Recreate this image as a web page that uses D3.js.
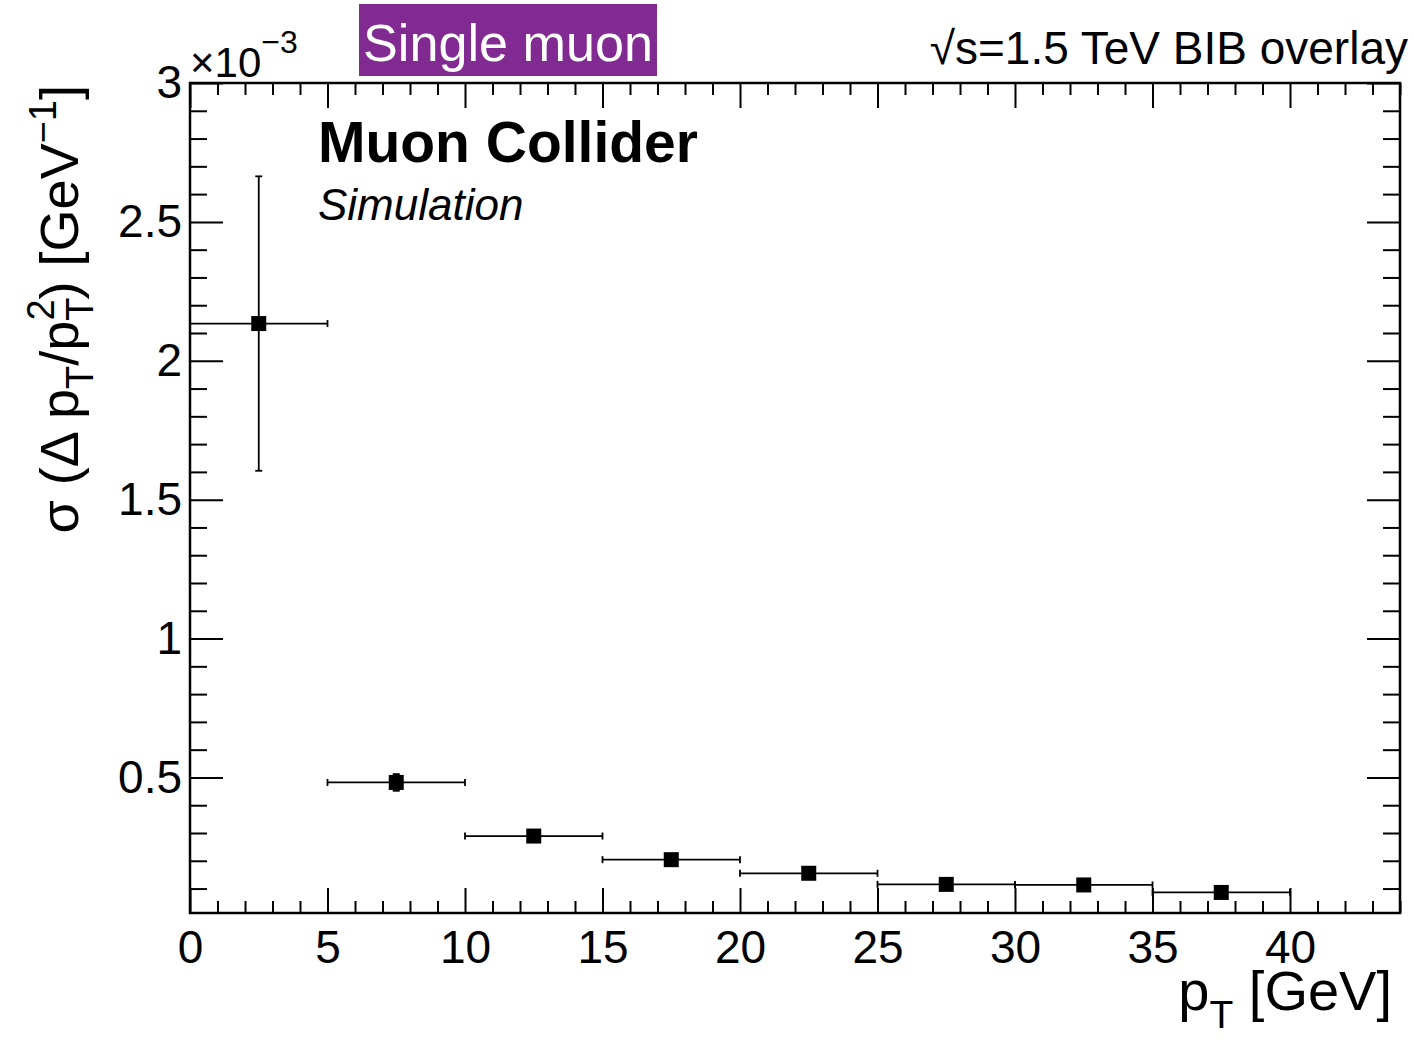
<!DOCTYPE html>
<html>
<head>
<meta charset="utf-8">
<script src="https://cdn.jsdelivr.net/npm/d3@7"></script>
<style>
  body { margin: 0; background: #fff; }
  svg { display: block; }
  text { font-family: "Liberation Sans", Arial, Helvetica, sans-serif; fill: #000; }
</style>
</head>
<body>
<svg id="chart" width="1414" height="1040"></svg>
<script>
// ---- data (sigma in units of 1e-3 GeV^-1) ----
const ptCenters   = [2.5, 7.5, 12.5, 17.5, 22.5, 27.5, 32.5, 37.5];
const ptHalfWidth = [2.5, 2.5, 2.5, 2.5, 2.5, 2.5, 2.5, 2.5];
const sigmaVals   = [2.134, 0.482, 0.289, 0.204, 0.155, 0.115, 0.113, 0.086];
const sigmaErrs   = [0.53, 0.03, 0.012, 0.008, 0.006, 0.005, 0.005, 0.004];

const xMajorTicks = [0, 5, 10, 15, 20, 25, 30, 35, 40];
const xMinorTicks = d3.range(0, 45, 1);
const yMajorTicks = [0.5, 1, 1.5, 2, 2.5, 3];
const yTickLabels = ["0.5", "1", "1.5", "2", "2.5", "3"];
const yMinorTicks = d3.range(1, 31).map(d => d / 10);

const xDomain = [0, 44];
const yDomain = [0.012, 3];

// ---- layout ----
const L = 190, R = 1400, T = 83, B = 913;
const svg = d3.select("#chart");
const x = d3.scaleLinear(xDomain, [L, R]);
const y = d3.scaleLinear(yDomain, [B, T]);

function clean(g) { g.select(".domain").remove(); g.selectAll("line").attr("stroke", "#000").attr("stroke-width", 2); }

// bottom
svg.append("g").attr("transform", `translate(0,${B})`)
  .call(d3.axisBottom(x).tickValues(xMinorTicks.filter(d => d % 5 !== 0)).tickSize(-12).tickFormat(""))
  .call(clean);
svg.append("g").attr("transform", `translate(0,${B})`)
  .call(d3.axisBottom(x).tickValues(xMajorTicks).tickSizeInner(-25).tickSizeOuter(0).tickPadding(17).tickFormat(d3.format("d")))
  .call(clean)
  .selectAll("text").attr("font-size", 46).attr("font-family", "Liberation Sans, Arial, sans-serif");
// top
svg.append("g").attr("transform", `translate(0,${T})`)
  .call(d3.axisTop(x).tickValues(xMinorTicks.filter(d => d % 5 !== 0)).tickSize(-12).tickFormat(""))
  .call(clean);
svg.append("g").attr("transform", `translate(0,${T})`)
  .call(d3.axisTop(x).tickValues(xMajorTicks).tickSize(-25).tickFormat(""))
  .call(clean);
// left
svg.append("g").attr("transform", `translate(${L},0)`)
  .call(d3.axisLeft(y).tickValues(yMinorTicks.filter(d => Math.round(d * 10) % 5 !== 0)).tickSize(-17).tickFormat(""))
  .call(clean);
svg.append("g").attr("transform", `translate(${L},0)`)
  .call(d3.axisLeft(y).tickValues(yMajorTicks).tickSizeInner(-33).tickSizeOuter(0).tickPadding(8)
        .tickFormat((d, i) => yTickLabels[i]))
  .call(clean)
  .selectAll("text").attr("font-size", 46).attr("font-family", "Liberation Sans, Arial, sans-serif");
// right
svg.append("g").attr("transform", `translate(${R},0)`)
  .call(d3.axisRight(y).tickValues(yMinorTicks.filter(d => Math.round(d * 10) % 5 !== 0)).tickSize(-17).tickFormat(""))
  .call(clean);
svg.append("g").attr("transform", `translate(${R},0)`)
  .call(d3.axisRight(y).tickValues(yMajorTicks).tickSize(-33).tickFormat(""))
  .call(clean);

// frame
svg.append("rect").attr("x", L).attr("y", T).attr("width", R - L).attr("height", B - T)
  .attr("fill", "none").attr("stroke", "#000").attr("stroke-width", 2.5);

// ---- data points ----
const pts = ptCenters.map((c, i) => ({ c, hw: ptHalfWidth[i], v: sigmaVals[i], e: sigmaErrs[i] }));
const g = svg.append("g").attr("stroke", "#000").attr("stroke-width", 1.8);
const cap = 3.5;
pts.forEach(p => {
  const x0 = x(p.c - p.hw), x1 = x(p.c + p.hw), yc = y(p.v);
  g.append("line").attr("x1", x0).attr("x2", x1).attr("y1", yc).attr("y2", yc);
  g.append("line").attr("x1", x0).attr("x2", x0).attr("y1", yc - cap).attr("y2", yc + cap);
  g.append("line").attr("x1", x1).attr("x2", x1).attr("y1", yc - cap).attr("y2", yc + cap);
  const xc = x(p.c), ya = y(p.v + p.e), yb = y(p.v - p.e);
  g.append("line").attr("x1", xc).attr("x2", xc).attr("y1", ya).attr("y2", yb);
  g.append("line").attr("x1", xc - cap).attr("x2", xc + cap).attr("y1", ya).attr("y2", ya);
  g.append("line").attr("x1", xc - cap).attr("x2", xc + cap).attr("y1", yb).attr("y2", yb);
});
svg.append("g").selectAll("rect").data(pts).join("rect")
  .attr("x", d => x(d.c) - 7.5).attr("y", d => y(d.v) - 7.5)
  .attr("width", 15).attr("height", 15).attr("fill", "#000");

// ---- texts ----
// exponent
const ex = svg.append("text").attr("x", 190).attr("y", 77).attr("font-size", 42);
ex.append("tspan").text("×10");
ex.append("tspan").attr("font-size", 32).attr("dy", -24).text("−3");

// Single muon label
svg.append("rect").attr("x", 359).attr("y", 4).attr("width", 298).attr("height", 72).attr("fill", "#812b92");
svg.append("text").attr("x", 508).attr("y", 61).attr("text-anchor", "middle")
  .attr("font-family", "Lato, 'Open Sans', sans-serif").attr("font-weight", 300)
  .attr("font-size", 52).attr("textLength", 290).attr("lengthAdjust", "spacingAndGlyphs")
  .style("fill", "#fff").text("Single muon");

// sqrt(s)
const ss = svg.append("text").attr("x", 1408).attr("y", 64).attr("text-anchor", "end").attr("font-size", 46);
ss.append("tspan").text("√s=1.5 TeV BIB overlay");

svg.append("text").attr("x", 318).attr("y", 162).attr("font-size", 57).attr("font-weight", "bold").text("Muon Collider");
svg.append("text").attr("x", 318).attr("y", 220).attr("font-size", 44).attr("font-style", "italic").text("Simulation");

// x title
const xt = svg.append("text").attr("x", 1392).attr("y", 1010).attr("text-anchor", "end").attr("font-size", 56);
xt.append("tspan").text("p");
xt.append("tspan").attr("font-size", 39).attr("dy", 18).text("T");
xt.append("tspan").attr("dy", -18).text(" [GeV]");

// y title
const yt = svg.append("text").attr("transform", "translate(78,85) rotate(-90)").attr("text-anchor", "end").attr("font-size", 54);
yt.append("tspan").text("σ (Δ p");
yt.append("tspan").attr("font-size", 38).attr("dy", 15).text("T");
yt.append("tspan").attr("dy", -15).text("/p");
yt.append("tspan").attr("font-size", 38).attr("dy", 15).text("T");
yt.append("tspan").attr("font-size", 38).attr("dx", -23).attr("dy", -39).text("2");
yt.append("tspan").attr("dy", 24).text(") [GeV");
yt.append("tspan").attr("font-size", 38).attr("dy", -22).text("−1");
yt.append("tspan").attr("dy", 22).text("]");
</script>
</body>
</html>
